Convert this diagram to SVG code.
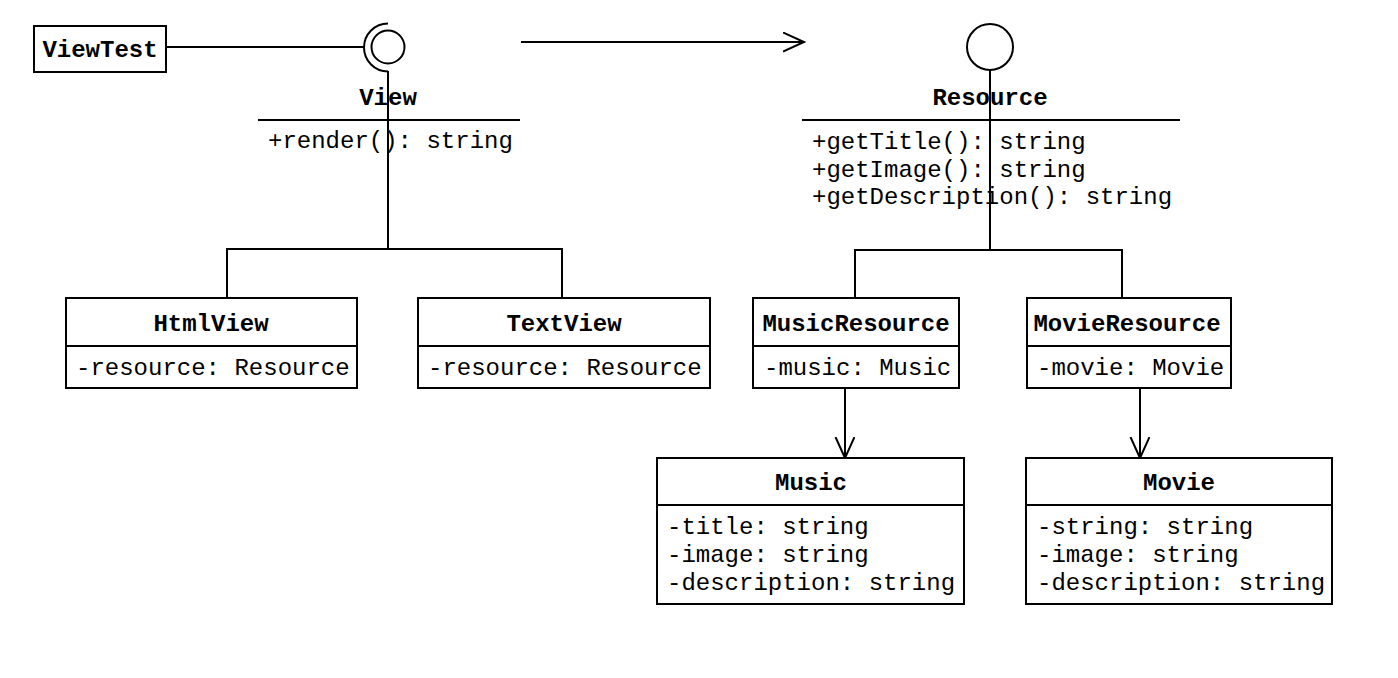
<svg xmlns="http://www.w3.org/2000/svg" width="1398" height="678" viewBox="0 0 1398 678">
<style>
.box{fill:#fff;stroke:#000;stroke-width:2}
.ln{fill:none;stroke:#000;stroke-width:2}
text{font-family:"Liberation Mono","Courier New",monospace;font-size:24px;fill:#000}
.t{font-weight:bold;text-anchor:middle}
</style>
<defs>
<marker id="open" markerWidth="24" markerHeight="22" refX="21" refY="10" orient="auto" markerUnits="userSpaceOnUse">
<path d="M0 0.5 L21 10 L0 19.5" fill="none" stroke="#000" stroke-width="2"/>
</marker>
</defs>
<rect width="1398" height="678" fill="#fff"/>
<g id="connectors">
<line class="ln" x1="166" y1="47" x2="364" y2="47"/>
<line class="ln" x1="388" y1="71" x2="388" y2="249"/>
<polyline class="ln" points="227,298 227,249 562,249 562,298"/>
<line class="ln" x1="990" y1="70" x2="990" y2="250"/>
<polyline class="ln" points="855,298 855,250 1122,250 1122,298"/>
<line class="ln" x1="521" y1="42" x2="804" y2="42" marker-end="url(#open)"/>
<line class="ln" x1="845" y1="388" x2="845" y2="458" marker-end="url(#open)"/>
<line class="ln" x1="1140" y1="388" x2="1140" y2="458" marker-end="url(#open)"/>
</g>
<g id="ViewTest">
<rect class="box" x="34" y="26" width="132" height="46"/>
<text class="t" x="100" y="57">ViewTest</text>
</g>
<g id="View">
<path class="ln" d="M388 23.5 A24 24 0 0 0 388 71.5"/>
<circle cx="388" cy="47" r="16.5" fill="none" stroke="#000" stroke-width="2"/>
<text class="t" x="388" y="105">View</text>
<line class="ln" x1="258" y1="120" x2="520" y2="120"/>
<text x="268" y="148">+render(): string</text>
</g>
<g id="Resource">
<circle cx="990" cy="47" r="23" fill="none" stroke="#000" stroke-width="2"/>
<text class="t" x="990" y="105">Resource</text>
<line class="ln" x1="802" y1="120" x2="1180" y2="120"/>
<text x="812" y="149">+getTitle(): string</text>
<text x="812" y="177">+getImage(): string</text>
<text x="812" y="204">+getDescription(): string</text>
</g>
<g id="HtmlView">
<rect class="box" x="66" y="298" width="291" height="90"/>
<line class="ln" x1="66" y1="346" x2="357" y2="346"/>
<text class="t" x="211" y="331">HtmlView</text>
<text x="76" y="375">-resource: Resource</text>
</g>
<g id="TextView">
<rect class="box" x="418" y="298" width="292" height="90"/>
<line class="ln" x1="418" y1="346" x2="710" y2="346"/>
<text class="t" x="564" y="331">TextView</text>
<text x="428" y="375">-resource: Resource</text>
</g>
<g id="MusicResource">
<rect class="box" x="753" y="298" width="206" height="90"/>
<line class="ln" x1="753" y1="346" x2="959" y2="346"/>
<text class="t" x="856" y="331">MusicResource</text>
<text x="764" y="375">-music: Music</text>
</g>
<g id="MovieResource">
<rect class="box" x="1027" y="298" width="204" height="90"/>
<line class="ln" x1="1027" y1="346" x2="1231" y2="346"/>
<text class="t" x="1127" y="331">MovieResource</text>
<text x="1037" y="375">-movie: Movie</text>
</g>
<g id="Music">
<rect class="box" x="657" y="458" width="307" height="146"/>
<line class="ln" x1="657" y1="505" x2="964" y2="505"/>
<text class="t" x="811" y="490">Music</text>
<text x="667" y="534">-title: string</text>
<text x="667" y="562">-image: string</text>
<text x="667" y="590">-description: string</text>
</g>
<g id="Movie">
<rect class="box" x="1026" y="458" width="306" height="146"/>
<line class="ln" x1="1026" y1="505" x2="1332" y2="505"/>
<text class="t" x="1179" y="490">Movie</text>
<text x="1037" y="534">-string: string</text>
<text x="1037" y="562">-image: string</text>
<text x="1037" y="590">-description: string</text>
</g>
</svg>
